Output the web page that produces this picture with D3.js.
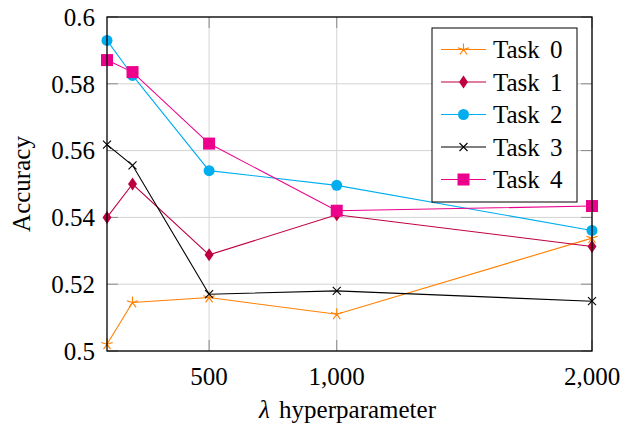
<!DOCTYPE html>
<html>
<head>
<meta charset="utf-8">
<script src="https://cdn.jsdelivr.net/npm/d3@7"></script>
<style>
  body { margin: 0; background: #fff; }
</style>
</head>
<body>
<svg width="622" height="429"></svg>
<script>
// lambda values on the x axis
const lambdas = [100, 200, 500, 1000, 2000];
const tasks = ["Task 0", "Task 1", "Task 2", "Task 3", "Task 4"];
const task0 = [0.502, 0.5145, 0.516, 0.511, 0.5338];
const task1 = [0.540, 0.550, 0.5288, 0.5408, 0.5313];
const task2 = [0.593, 0.5825, 0.554, 0.5496, 0.5361];
const task3 = [0.5618, 0.5556, 0.517, 0.518, 0.5149];
const task4 = [0.5871, 0.5835, 0.5621, 0.542, 0.5434];
const xTicks = [500, 1000, 2000];
const yTicks = [0.5, 0.52, 0.54, 0.56, 0.58, 0.6];

const series = [task0, task1, task2, task3, task4];
const colors = ["#ff8000", "#bf0040", "#00aeef", "#000000", "#ec008c"];
const marks = ["star", "diamond", "circle", "cross", "square"];
const serif = "'Liberation Serif', 'Times New Roman', serif";

const svg = d3.select("svg").attr("font-family", serif);
const pLeft = 107, pRight = 592, pTop = 17, pBottom = 351;

const x = d3.scaleLinear().domain([100, 2000]).range([pLeft, pRight]);
const y = d3.scaleLinear().domain([0.5, 0.6]).range([pBottom, pTop]);

// grid
svg.append("g").selectAll("line").data(xTicks).enter().append("line")
    .attr("x1", d => x(d)).attr("x2", d => x(d)).attr("y1", pTop).attr("y2", pBottom)
    .attr("stroke", "#d3d3d3").attr("stroke-width", 1);
svg.append("g").selectAll("line").data(yTicks).enter().append("line")
    .attr("x1", pLeft).attr("x2", pRight).attr("y1", d => y(d)).attr("y2", d => y(d))
    .attr("stroke", "#d3d3d3").attr("stroke-width", 1);

// tick marks (inside, mirrored)
const tl = 11;
const tg = svg.append("g").attr("stroke", "#8a8a8a").attr("stroke-width", 1);
xTicks.forEach(v => {
    tg.append("line").attr("x1", x(v)).attr("x2", x(v)).attr("y1", pBottom).attr("y2", pBottom - tl);
    tg.append("line").attr("x1", x(v)).attr("x2", x(v)).attr("y1", pTop).attr("y2", pTop + tl);
});
yTicks.forEach(v => {
    tg.append("line").attr("x1", pLeft).attr("x2", pLeft + tl).attr("y1", y(v)).attr("y2", y(v));
    tg.append("line").attr("x1", pRight).attr("x2", pRight - tl).attr("y1", y(v)).attr("y2", y(v));
});

// tick labels
svg.append("g").selectAll("text").data(yTicks).enter().append("text")
    .attr("font-family", serif)
    .attr("x", pLeft - 12).attr("y", d => y(d)).attr("dy", "0.35em")
    .attr("text-anchor", "end").attr("font-size", 25)
    .text(d => String(+d.toFixed(2)));
svg.append("g").selectAll("text").data(xTicks).enter().append("text")
    .attr("font-family", serif)
    .attr("x", d => x(d)).attr("y", pBottom + 16).attr("dy", "0.71em")
    .attr("text-anchor", "middle").attr("font-size", 25)
    .text(d => d3.format(",")(d));

// axis titles
svg.append("text").attr("font-family", serif).attr("transform", "translate(30,184) rotate(-90)")
    .attr("text-anchor", "middle").attr("font-size", 25).text("Accuracy");
svg.append("text").attr("font-family", serif).attr("x", (pLeft + pRight) / 2 - 2).attr("y", 418)
    .attr("text-anchor", "middle").attr("font-size", 25).attr("word-spacing", 3)
    .html("<tspan font-style='italic'>λ</tspan> hyperparameter");

function marker(g, type, color) {
    if (type === "circle") {
        g.append("circle").attr("r", 5.5).attr("fill", color);
    } else if (type === "square") {
        g.append("rect").attr("x", -6).attr("y", -6).attr("width", 12).attr("height", 12).attr("fill", color);
    } else if (type === "diamond") {
        g.append("path").attr("d", "M0,-6.5L4.5,0L0,6.5L-4.5,0Z").attr("fill", color);
    } else if (type === "cross") {
        g.append("path").attr("d", "M-4,-4L4,4M-4,4L4,-4").attr("stroke", color).attr("stroke-width", 1.1);
    } else if (type === "star") {
        let d = "";
        for (let k = 0; k < 5; k++) {
            const a = -Math.PI / 2 + k * 2 * Math.PI / 5;
            d += `M0,0L${(6 * Math.cos(a)).toFixed(2)},${(6 * Math.sin(a)).toFixed(2)}`;
        }
        g.append("path").attr("d", d).attr("stroke", color).attr("stroke-width", 1.1);
    }
}

// lines + markers
const line = d3.line().x((d, i) => x(lambdas[i])).y(d => y(d));
series.forEach((s, k) => {
    svg.append("path").datum(s).attr("d", line)
        .attr("fill", "none").attr("stroke", colors[k]).attr("stroke-width", 1.1);
    s.forEach((v, i) => {
        const g = svg.append("g").attr("transform", `translate(${x(lambdas[i])},${y(v)})`);
        marker(g, marks[k], colors[k]);
    });
});

// frame
svg.append("rect").attr("x", pLeft).attr("y", pTop).attr("width", pRight - pLeft).attr("height", pBottom - pTop)
    .attr("fill", "none").attr("stroke", "#000").attr("stroke-width", 1.3);

// legend
const lg = svg.append("g").attr("transform", "translate(432,28)");
lg.append("rect").attr("width", 145).attr("height", 174).attr("fill", "#fff").attr("stroke", "#000").attr("stroke-width", 1);
tasks.forEach((t, k) => {
    const yy = 21.5 + k * 32.5;
    lg.append("line").attr("x1", 9).attr("x2", 54).attr("y1", yy).attr("y2", yy)
        .attr("stroke", colors[k]).attr("stroke-width", 1.1);
    marker(lg.append("g").attr("transform", `translate(31.5,${yy})`), marks[k], colors[k]);
    lg.append("text").attr("font-family", serif).attr("x", 61).attr("y", yy).attr("dy", "0.35em")
        .attr("font-size", 25).attr("word-spacing", 4).text(t);
});
</script>
</body>
</html>
